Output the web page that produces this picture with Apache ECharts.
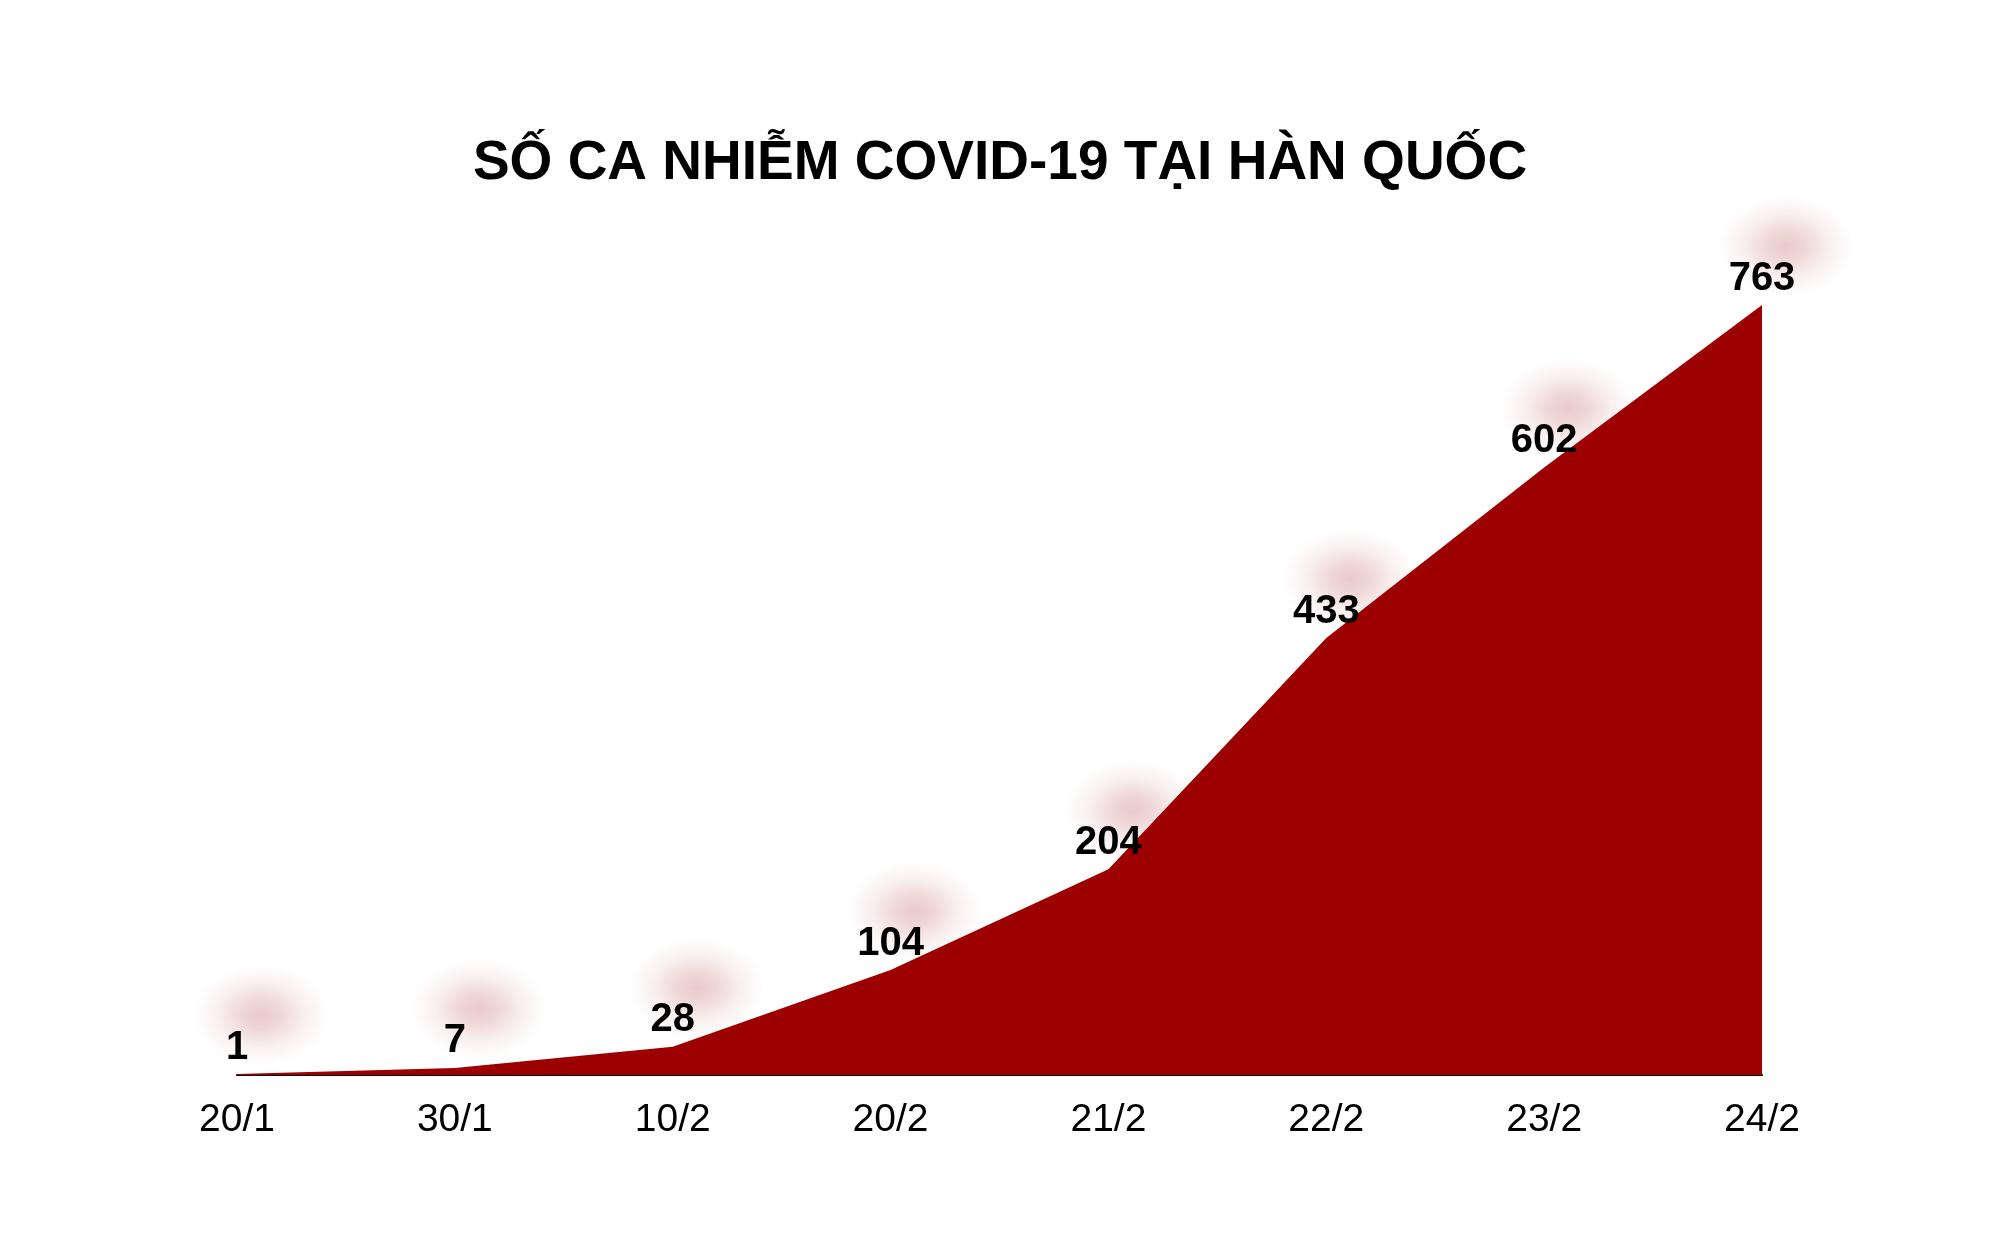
<!DOCTYPE html>
<html>
<head>
<meta charset="utf-8">
<script src="https://cdn.jsdelivr.net/npm/echarts@6/dist/echarts.min.js"></script>
<style>html,body{margin:0;padding:0;background:#fff;}#chart{width:2000px;height:1234px;}</style>
</head>
<body>
<div id="chart"></div>
<script>
const titleText = 'SỐ CA NHIỄM COVID-19 TẠI HÀN QUỐC';
const categories = ['20/1', '30/1', '10/2', '20/2', '21/2', '22/2', '23/2', '24/2'];
const cases = [1, 7, 28, 104, 204, 433, 602, 763];

const chart = echarts.init(document.getElementById('chart'), null, {renderer: 'canvas'});
const font = '"Liberation Sans", Arial, Helvetica, sans-serif';
chart.setOption({
  backgroundColor: '#ffffff',
  animation: false,
  title: {
    text: titleText,
    left: 'center',
    top: 131,
    textStyle: {fontFamily: font, fontWeight: 'bold', fontSize: 55, color: '#000'}
  },
  grid: {left: 237, right: 238, top: 305, bottom: 159},
  xAxis: {
    type: 'category',
    data: categories,
    boundaryGap: false,
    axisLine: {show: true, lineStyle: {color: '#000', width: 2}},
    axisTick: {show: false},
    axisLabel: {fontFamily: font, fontSize: 39, color: '#000', margin: 26},
    splitLine: {show: false}
  },
  yAxis: {
    type: 'value',
    min: 0,
    max: 763,
    show: false,
    splitLine: {show: false}
  },
  series: [
    {
      type: 'line',
      data: cases,
      z: 3,
      symbol: 'circle',
      symbolSize: 1,
      showAllSymbol: true,
      itemStyle: {color: 'rgba(0,0,0,0)'},
      lineStyle: {width: 0, color: '#9c0000'},
      areaStyle: {color: '#9c0000', opacity: 1},
      label: {
        show: true,
        position: 'top',
        distance: 6,
        fontFamily: font,
        fontWeight: 'bold',
        fontSize: 40,
        color: '#000'
      }
    },
    {
      type: 'line',
      data: cases,
      z: 1,
      lineStyle: {width: 0, opacity: 0},
      symbol: 'circle',
      symbolSize: [135, 100],
      symbolOffset: [24, -59],
      showAllSymbol: true,
      silent: true,
      itemStyle: {
        opacity: 1,
        color: {
          type: 'radial', x: 0.5, y: 0.5, r: 0.5,
          colorStops: [
            {offset: 0, color: 'rgba(190,90,90,0.32)'},
            {offset: 0.3, color: 'rgba(190,90,90,0.24)'},
            {offset: 0.65, color: 'rgba(190,90,90,0.09)'},
            {offset: 1, color: 'rgba(190,90,90,0)'}
          ]
        }
      },
      label: {show: false}
    }
  ]
});
</script>
</body>
</html>
